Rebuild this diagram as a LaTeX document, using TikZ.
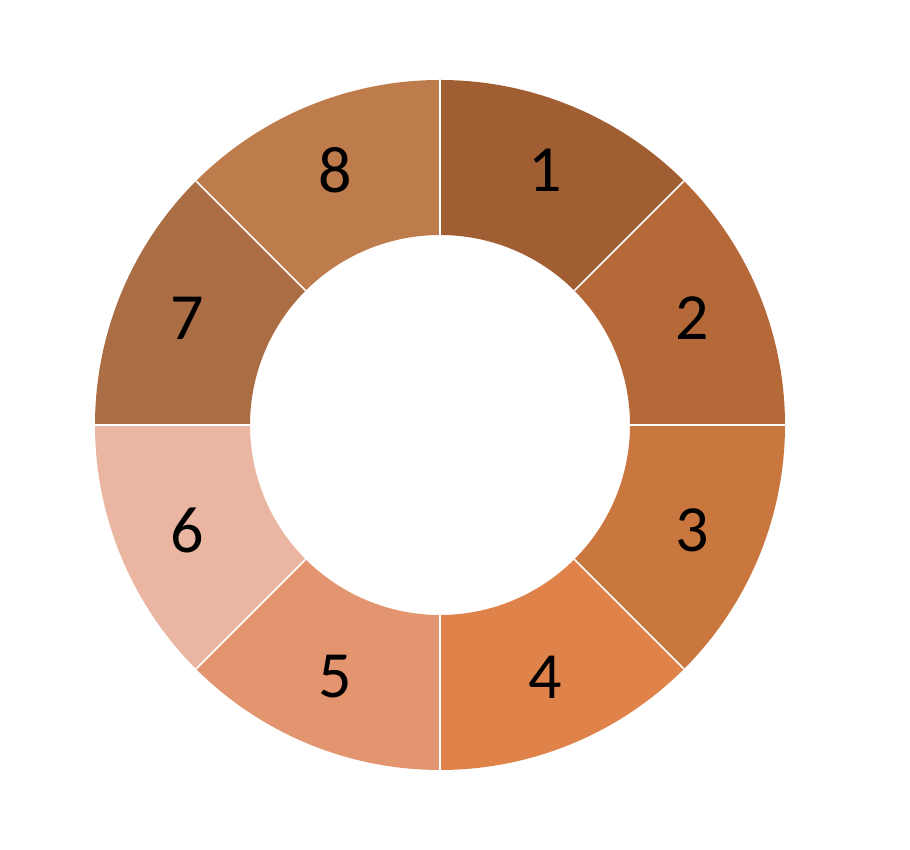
\documentclass[tikz,border=0pt]{standalone}
\usepackage{fontspec}
\setmainfont{Carlito}
\usetikzlibrary{calc}
\definecolor{c1}{HTML}{A15E32}
\definecolor{c2}{HTML}{B56939}
\definecolor{c3}{HTML}{CA763F}
\definecolor{c4}{HTML}{E0834A}
\definecolor{c5}{HTML}{E2956E}
\definecolor{c6}{HTML}{EAB6A1}
\definecolor{c7}{HTML}{AB6E44}
\definecolor{c8}{HTML}{BE7B4B}
\tikzset{
  lbl/.style={font=\fontsize{66}{72}\selectfont, text=black, inner sep=0pt, anchor=center}
}
\begin{document}
\begin{tikzpicture}[x=1pt,y=1pt]
\useasboundingbox (0,0) rectangle (910,850);
\coordinate (O) at (440,425);
\def\ro{345}
\def\ri{190}
\foreach \i/\c in {1/c1,2/c2,3/c3,4/c4,5/c5,6/c6,7/c7,8/c8}{
  \pgfmathsetmacro\a{90-45*(\i-1)}
  \pgfmathsetmacro\b{90-45*\i}
  \fill[\c] ($(O)+(\a:\ro)$) arc[start angle=\a, end angle=\b, radius=\ro]
    -- ($(O)+(\b:\ri)$) arc[start angle=\b, end angle=\a, radius=\ri] -- cycle;
}
\foreach \i in {0,...,7}{
  \draw[white, line width=1.6pt] ($(O)+(90-45*\i:\ri)$) -- ($(O)+(90-45*\i:\ro)$);
}
\node[lbl] (n1) at (545,680) {1};
\node[lbl] (n2) at (692,532) {2};
\node[lbl] (n3) at (692,320) {3};
\node[lbl] (n4) at (545,173) {4};
\node[lbl] (n5) at (335,173) {5};
\node[lbl] (n6) at (187,320) {6};
\node[lbl] (n7) at (187,532) {7};
\node[lbl] (n8) at (335,680) {8};
\end{tikzpicture}
\end{document}
